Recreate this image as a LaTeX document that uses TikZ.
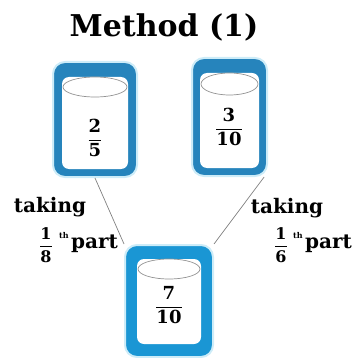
\documentclass[tikz,border=0pt]{standalone}
\usepackage{fontspec}
\setmainfont{DejaVu Serif}
\usetikzlibrary{calc}
\definecolor{jarblue}{RGB}{38,132,188}
\definecolor{jarlight}{RGB}{26,150,212}
\definecolor{glow}{RGB}{205,236,248}
\newcommand{\frc}[2]{$\displaystyle\frac{\mbox{#1}}{\mbox{#2}}$}
\begin{document}
\begin{tikzpicture}[x=1pt,y=-1pt,
    jar/.style={rounded corners=12pt, fill=jarblue, draw=glow, line width=2pt, inner sep=0pt},
    inside/.style={fill=white, rounded corners=7pt},
    rim/.style={draw=gray!85, line width=0.7pt},
    num/.style={font=\fontsize{18}{20}\selectfont\bfseries, inner sep=0pt},
    small/.style={font=\fontsize{16}{18}\selectfont\bfseries, inner sep=0pt},
    word/.style={font=\fontsize{20}{22}\selectfont\bfseries, inner sep=0pt},
    th/.style={font=\fontsize{8}{9}\selectfont\bfseries, inner sep=0pt},
    link/.style={draw=gray, line width=0.7pt}]
  \useasboundingbox (0,0) rectangle (358,358);
  \node[font=\fontsize{30}{32}\selectfont\bfseries] (title) at (164,27) {Method (1)};

  % the two jars on top
  \node[jar, minimum width=84pt, minimum height=115pt] (jarA) at (95,119.5) {};
  \fill[inside] ($(jarA.north west)+(10,16)$) rectangle ($(jarA.south east)+(-10,-9)$);
  \draw[rim] ($(jarA.north)+(0,26)$) ellipse [x radius=32, y radius=10];
  \node[num] (fracA) at (95,138) {\frc{2}{5}};

  \node[jar, minimum width=75pt, minimum height=118pt] (jarB) at (229.5,117) {};
  \fill[inside] ($(jarB.north west)+(9,16)$) rectangle ($(jarB.south east)+(-9,-9)$);
  \draw[rim] ($(jarB.north)+(0,27)$) ellipse [x radius=28.5, y radius=11];
  \node[num] (fracB) at (229,127) {\frc{3}{10}};

  % the mixed jar
  \node[jar, fill=jarlight, minimum width=88pt, minimum height=112pt] (jarC) at (169,301) {};
  \fill[inside] ($(jarC.north west)+(13,15)$) rectangle ($(jarC.south east)+(-13,-14)$);
  \draw[rim] ($(jarC.north)+(0,25)$) ellipse [x radius=31, y radius=10];
  \node[num] (fracC) at (169,305) {\frc{7}{10}};

  \draw[link] (jarA.south) -- (jarC.north west);
  \draw[link] (jarB.-60) -- (jarC.north east);

  % labels
  \node[word] (takeA) at (50,207) {taking};
  \node[small] (fracD) at (46,245) {\frc{1}{8}};
  \node[th] (thA) at (64,236) {th};
  \node[word, anchor=base west] (partA) at (71,248) {part};

  \node[word] (takeB) at (287,208) {taking};
  \node[small] (fracE) at (281,245) {\frc{1}{6}};
  \node[th] (thB) at (298,236) {th};
  \node[word, anchor=base west] (partB) at (305,248) {part};
\end{tikzpicture}
\end{document}
